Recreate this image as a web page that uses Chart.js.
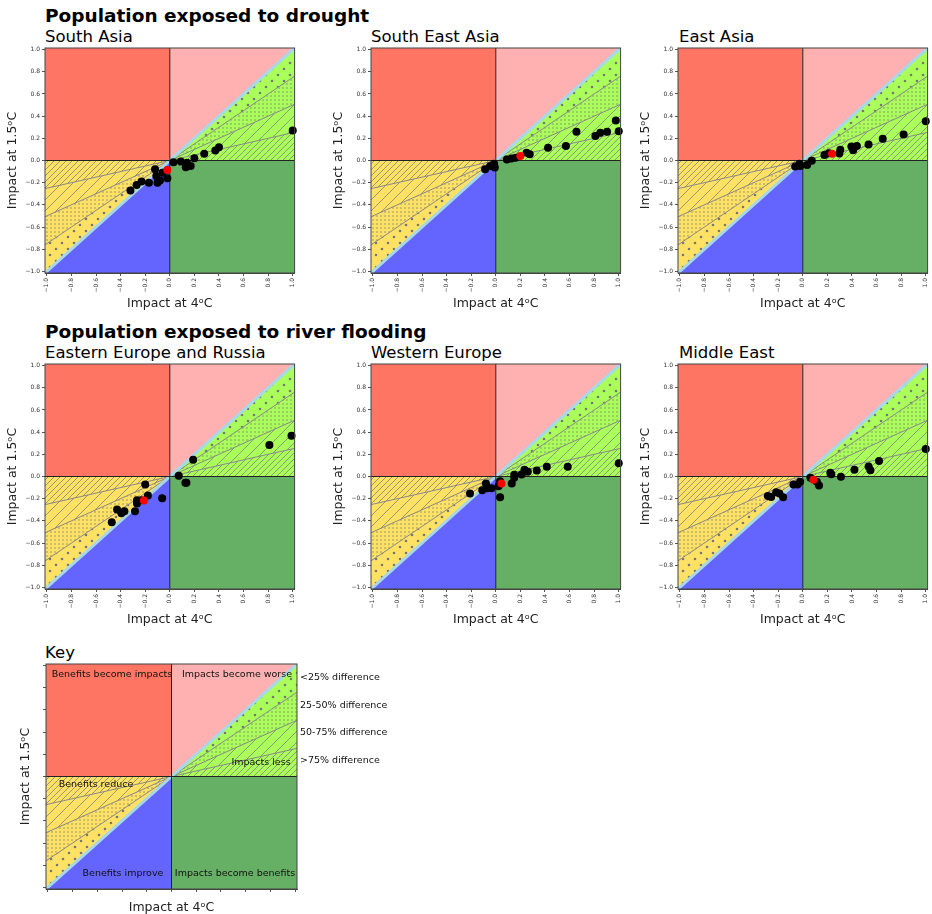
<!DOCTYPE html>
<html>
<head>
<meta charset="utf-8">
<script src="https://cdn.jsdelivr.net/npm/chart.js@4.4.0/dist/chart.umd.min.js"></script>
<style>
body{margin:0;background:#fff;font-family:"DejaVu Sans",sans-serif;}
#wrap{position:relative;width:932px;height:914px;overflow:hidden;}
.t{position:absolute;white-space:nowrap;line-height:1;color:#000;}
.h{font-weight:bold;font-size:18.5px;}
.s{font-size:16.5px;}
.box{position:absolute;}
.k{position:absolute;font-size:9.5px;white-space:nowrap;transform:translate(-50%,-50%);color:#111;}
.d{position:absolute;font-size:9.5px;white-space:nowrap;transform:translateY(-50%);color:#111;}
</style>
</head>
<body>
<div id="wrap">
  <div class="t h" style="left:45px;top:7px">Population exposed to drought</div>
  <div class="t s" style="left:45px;top:29px">South Asia</div>
  <div class="t s" style="left:371px;top:29px">South East Asia</div>
  <div class="t s" style="left:679px;top:29px">East Asia</div>
  <div class="t h" style="left:45px;top:323px">Population exposed to river flooding</div>
  <div class="t s" style="left:45px;top:345px">Eastern Europe and Russia</div>
  <div class="t s" style="left:371px;top:345px">Western Europe</div>
  <div class="t s" style="left:679px;top:345px">Middle East</div>
  <div class="t s" style="left:45px;top:645px">Key</div>
</div>
<script>
// impact at 4C (x) and 1.5C (y)
var southAsia4  = [1.0, 0.40, 0.37, 0.28, 0.20, 0.17, 0.13, 0.14, 0.09, 0.03, -0.02, -0.06, -0.08, -0.10, -0.11, -0.12, -0.17, -0.23, -0.27, -0.32];
var southAsia15 = [0.27, 0.12, 0.09, 0.06, 0.02, -0.05, -0.06, -0.02, -0.01, -0.015, -0.16, -0.11, -0.18, -0.20, -0.14, -0.08, -0.20, -0.19, -0.22, -0.27];
var southAsiaMid = [-0.02, -0.085];

var seAsia4  = [1.0, 0.976, 0.905, 0.85, 0.81, 0.656, 0.57, 0.425, 0.276, 0.25, 0.16, 0.127, 0.09, -0.014, -0.02, -0.046, -0.087, -0.008];
var seAsia15 = [0.265, 0.36, 0.26, 0.25, 0.22, 0.26, 0.13, 0.115, 0.057, 0.07, 0.024, 0.018, 0.01, -0.03, -0.054, -0.05, -0.08, -0.063];
var seAsiaMid = [0.20, 0.04];

var eAsia4  = [1.0, 0.82, 0.65, 0.535, 0.44, 0.41, 0.395, 0.305, 0.297, 0.213, 0.176, 0.073, 0.035, -0.027, -0.02, -0.062];
var eAsia15 = [0.355, 0.235, 0.196, 0.145, 0.13, 0.093, 0.126, 0.096, 0.063, 0.066, 0.05, -0.003, -0.04, -0.03, -0.05, -0.054];
var eAsiaMid = [0.238, 0.06];

var eEurope4  = [0.99, 0.81, 0.19, 0.073, 0.127, 0.135, -0.062, -0.20, -0.178, -0.229, -0.267, -0.267, -0.283, -0.369, -0.394, -0.429, -0.472];
var eEurope15 = [0.367, 0.285, 0.15, 0.006, -0.057, -0.057, -0.196, -0.072, -0.172, -0.214, -0.214, -0.244, -0.313, -0.313, -0.331, -0.298, -0.413];
var eEuropeMid = [-0.21, -0.217];

var wEurope4  = [1.0, 0.585, 0.415, 0.333, 0.26, 0.233, 0.21, 0.15, 0.15, 0.13, 0.035, 0.022, 0.035, -0.035, -0.07, -0.08, -0.11, -0.21];
var wEurope15 = [0.12, 0.087, 0.087, 0.054, 0.042, 0.06, 0.018, 0.015, -0.012, -0.063, -0.042, -0.087, -0.187, -0.105, -0.105, -0.063, -0.123, -0.154];
var wEuropeMid = [0.046, -0.063];

var mEast4  = [1.0, 0.62, 0.55, 0.535, 0.42, 0.31, 0.232, 0.224, 0.132, 0.114, 0.062, -0.022, -0.043, -0.076, -0.16, -0.19, -0.216, -0.257, -0.284];
var mEast15 = [0.247, 0.14, 0.057, 0.09, 0.06, -0.003, 0.02, 0.033, -0.081, -0.048, -0.012, -0.048, -0.072, -0.072, -0.187, -0.154, -0.142, -0.184, -0.175];
var mEastMid = [0.086, -0.03];

var tickValues = [-1.0, -0.8, -0.6, -0.4, -0.2, 0.0, 0.2, 0.4, 0.6, 0.8, 1.0];
var ratioLines = [0.25, 0.5, 0.75];
var keyLabels = ["<25% difference", "25-50% difference", "50-75% difference", ">75% difference"];

Chart.defaults.font.family = "DejaVu Sans";

function makePattern(kind) {
  var c = document.createElement("canvas");
  var s = kind === "bigDots" ? 12 : kind === "wideHatch" ? 11 : kind === "smallDots" ? 4 : 6;
  c.width = s; c.height = s;
  var g = c.getContext("2d");
  g.fillStyle = "#777";
  g.strokeStyle = "#7c7c7c";
  g.lineWidth = 0.75;
  if (kind === "bigDots") {
    [[3, 3], [9, 9]].forEach(function (p) {
      g.beginPath(); g.arc(p[0], p[1], 1.3, 0, Math.PI * 2); g.fill();
    });
  } else if (kind === "smallDots") {
    g.beginPath(); g.arc(2, 2, 0.7, 0, Math.PI * 2); g.fill();
  } else {
    g.beginPath();
    g.moveTo(0, s); g.lineTo(s, 0);
    g.moveTo(-1, 1); g.lineTo(1, -1);
    g.moveTo(s - 1, s + 1); g.lineTo(s + 1, s - 1);
    g.stroke();
  }
  return g.createPattern(c, "repeat");
}

var regions = {
  id: "regions",
  beforeDatasetsDraw: function (chart) {
    var ctx = chart.ctx, a = chart.chartArea, xs = chart.scales.x, ys = chart.scales.y;
    ctx.save();
    ctx.beginPath(); ctx.rect(a.left, a.top, a.width, a.height); ctx.clip();
    function poly(pts, fill) {
      ctx.beginPath();
      pts.forEach(function (p, i) {
        var X = xs.getPixelForValue(p[0]), Y = ys.getPixelForValue(p[1]);
        if (i) ctx.lineTo(X, Y); else ctx.moveTo(X, Y);
      });
      ctx.closePath();
      ctx.fillStyle = fill;
      ctx.fill();
    }
    var e = 1.2;
    poly([[-e, 0], [0, 0], [0, e], [-e, e]], "#ff7563");
    poly([[0, 0], [e, e], [0, e]], "#ffb0b0");
    poly([[0, 0], [e, 0], [e, e]], "#aaff5a");
    poly([[0, 0], [e, 0], [e, -e], [0, -e]], "#66b066");
    poly([[0, 0], [0, -e], [-e, -e]], "#6464ff");
    poly([[0, 0], [-e, -e], [-e, 0]], "#ffe264");
    var bands = [[0.75, 1, "bigDots"], [0.5, 0.75, "smallDots"], [0.25, 0.5, "wideHatch"], [0, 0.25, "tightHatch"]];
    bands.forEach(function (b) {
      var p = makePattern(b[2]);
      poly([[0, 0], [e, e * b[0]], [e, e * b[1]]], p);
      poly([[0, 0], [-e, -e * b[0]], [-e, -e * b[1]]], p);
    });
    ctx.restore();
  },
  afterDraw: function (chart) {
    var ctx = chart.ctx, a = chart.chartArea;
    ctx.save();
    ctx.strokeStyle = "#444";
    ctx.lineWidth = 1;
    ctx.strokeRect(a.left, a.top, a.width, a.height);
    ctx.restore();
  }
};

function fmt(v) {
  if (Math.abs(v) < 1e-9) v = 0;
  return v.toFixed(1).replace("-", "\u2212");
}

var W = 251, H = 225;

function makeChart(L, T, xs, ys, mid, isKey) {
  var yw = isKey ? 28 : 40, xh = isKey ? 26 : 38, pad = 6;
  var box = document.createElement("div");
  box.className = "box";
  box.style.left = (L - yw) + "px";
  box.style.top = (T - pad) + "px";
  var cv = document.createElement("canvas");
  cv.width = W + yw + pad;
  cv.height = H + pad + xh;
  box.appendChild(cv);
  document.getElementById("wrap").appendChild(box);

  var datasets = [];
  if (!isKey) {
    datasets.push({ data: [{ x: mid[0], y: mid[1] }], backgroundColor: "#ff0000", pointRadius: 4, borderWidth: 0, order: 0, clip: false });
    datasets.push({ data: xs.map(function (x, i) { return { x: x, y: ys[i] }; }), backgroundColor: "#000", pointRadius: 4, borderWidth: 0, order: 1, clip: false });
  }
  datasets.push({ data: [{ x: 0, y: -1.2 }, { x: 0, y: 1.2 }], showLine: true, borderColor: "#222", borderWidth: 1, pointRadius: 0, order: 2 });
  datasets.push({ data: [{ x: -1.2, y: 0 }, { x: 1.2, y: 0 }], showLine: true, borderColor: "#222", borderWidth: 1, pointRadius: 0, order: 2 });
  datasets.push({ data: [{ x: -1.2, y: -1.2 }, { x: 1.2, y: 1.2 }], showLine: true, borderColor: "#a8d8e8", borderWidth: 3, pointRadius: 0, order: 3 });
  ratioLines.forEach(function (k) {
    datasets.push({ data: [{ x: -1.2, y: -1.2 * k }, { x: 1.2, y: 1.2 * k }], showLine: true, borderColor: "#888", borderWidth: 1, pointRadius: 0, order: 4 });
  });

  function axis(title, isX) {
    return {
      type: "linear", min: -1.015, max: 1.015,
      afterBuildTicks: function (s) { s.ticks = tickValues.map(function (v) { return { value: v }; }); },
      afterFit: function (s) { if (isX) s.height = xh; else s.width = yw; },
      ticks: {
        display: !isKey, font: { size: 6 }, color: "#333", padding: 2,
        minRotation: isX ? 90 : 0, maxRotation: isX ? 90 : 0,
        callback: function (v) { return fmt(v); }
      },
      grid: { drawOnChartArea: false, tickLength: 3, color: "#555" },
      border: { color: "#444" },
      title: { display: true, text: title, font: { size: 12.5 }, color: "#222", padding: { top: 0, bottom: 0 } }
    };
  }

  new Chart(cv, {
    type: "scatter",
    data: { datasets: datasets },
    options: {
      responsive: false, animation: false, devicePixelRatio: 1,
      layout: { padding: { top: pad, right: pad, left: 0, bottom: 0 } },
      plugins: { legend: { display: false }, tooltip: { enabled: false } },
      scales: { x: axis("Impact at 4\u1D52C", true), y: axis("Impact at 1.5\u1D52C", false) }
    },
    plugins: [regions]
  });
}

makeChart(45, 48, southAsia4, southAsia15, southAsiaMid, false);
makeChart(371, 48, seAsia4, seAsia15, seAsiaMid, false);
makeChart(678, 48, eAsia4, eAsia15, eAsiaMid, false);
makeChart(45, 364, eEurope4, eEurope15, eEuropeMid, false);
makeChart(371, 364, wEurope4, wEurope15, wEuropeMid, false);
makeChart(678, 364, mEast4, mEast15, mEastMid, false);
makeChart(46, 664, null, null, null, true);

var wrap = document.getElementById("wrap");
[["Benefits become impacts", 112, 673], ["Impacts become worse", 237, 673], ["Impacts less", 261, 761],
 ["Benefits reduce", 96, 783], ["Benefits improve", 123, 872], ["Impacts become benefits", 235, 872]].forEach(function (k) {
  var d = document.createElement("div");
  d.className = "k"; d.textContent = k[0];
  d.style.left = k[1] + "px"; d.style.top = k[2] + "px";
  wrap.appendChild(d);
});
[676, 704, 731, 759].forEach(function (y, i) {
  var d = document.createElement("div");
  d.className = "d"; d.textContent = keyLabels[i];
  d.style.left = "300px"; d.style.top = y + "px";
  wrap.appendChild(d);
});
</script>
</body>
</html>
